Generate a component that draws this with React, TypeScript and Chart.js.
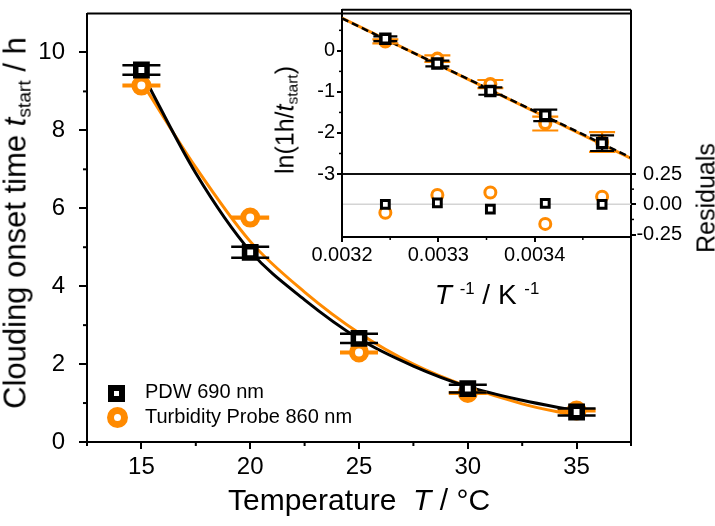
import React, { useEffect, useRef } from 'react';
import { Chart, registerables } from 'chart.js';

Chart.register(...registerables);

const FONT = '"Liberation Sans", Arial, Helvetica, sans-serif';
const BLACK = '#000000';
const ORANGE = '#FF8A00';

// ---------- main chart data ----------
const TEMPS = [15, 20, 25, 30, 35];
const PDW_T = [9.55, 4.87, 2.66, 1.37, 0.77];
const PDW_ERR = [0.12, 0.14, 0.12, 0.1, 0.09];
const TURB_T = [9.15, 5.76, 2.3, 1.26, 0.81];
const TURB_ERR = [0.02, 0.02, 0.02, 0.02, 0.02];
const FIT_T = [15, 17.5, 20, 22.5, 25, 27.5, 30, 32.5, 35];
const PDW_FIT = [9.5, 6.9, 4.9, 3.65, 2.65, 1.95, 1.42, 1.07, 0.8];
const TURB_FIT = [9.25, 7.05, 5.15, 3.85, 2.8, 2.0, 1.42, 0.98, 0.67];
const MAIN_X_TICKS = [15, 20, 25, 30, 35];
const MAIN_X_MINOR = [12.5, 17.5, 22.5, 27.5, 32.5, 37.5];
const MAIN_Y_TICKS = [0, 2, 4, 6, 8, 10];
const MAIN_Y_MINOR = [1, 3, 5, 7, 9];

// ---------- inset data ----------
const INV_T = [0.003245, 0.003299, 0.003354, 0.003411, 0.00347];
const PDW_LN = [0.295, -0.31, -0.98, -1.57, -2.25];
const PDW_LN_ERR = [0.06, 0.07, 0.09, 0.14, 0.19];
const TURB_LN = [0.23, -0.19, -0.81, -1.77, -2.22];
const TURB_LN_ERR = [0.05, 0.08, 0.1, 0.17, 0.24];
const FIT_X = [0.0032, 0.0035];
const PDW_LN_FIT = [0.79, -2.6];
const TURB_LN_FIT = [0.8, -2.62];
const ZERO_LINE = [0, 0];
const PDW_RES = [0.0, 0.012, -0.04, 0.008, 0.0];
const TURB_RES = [-0.07, 0.077, 0.097, -0.162, 0.063];
const INSET_X_TICKS = [0.0032, 0.0033, 0.0034];
const INSET_X_MINOR = [0.00325, 0.00335, 0.00345];
const INSET_Y_TICKS = [0, -1, -2, -3];
const INSET_Y_MINOR = [0.5, -0.5, -1.5, -2.5];
const RES_TICKS = [-0.25, 0, 0.25];
const RES_MINOR = [-0.125, 0.125];

function xy(xs: number[], ys: number[]) {
  return xs.map((x, i) => ({ x, y: ys[i] }));
}

type MinorItem = { scale: string; values: number[]; length: number; width: number };
function minorTicksPlugin(items: MinorItem[]) {
  return {
    id: 'minorTicks',
    afterDraw(chart: any) {
      const ctx = chart.ctx;
      items.forEach((item) => {
        const scale = chart.scales[item.scale];
        ctx.save();
        ctx.strokeStyle = BLACK;
        ctx.lineWidth = item.width;
        item.values.forEach((v) => {
          const p = scale.getPixelForValue(v);
          ctx.beginPath();
          if (scale.isHorizontal()) {
            ctx.moveTo(p, scale.top);
            ctx.lineTo(p, scale.top + item.length);
          } else if (scale.position === 'left') {
            ctx.moveTo(scale.right, p);
            ctx.lineTo(scale.right - item.length, p);
          } else {
            ctx.moveTo(scale.left, p);
            ctx.lineTo(scale.left + item.length, p);
          }
          ctx.stroke();
        });
        ctx.restore();
      });
    },
  };
}

type ErrCfg = { errors: number[]; color: string; cap: number; width: number };
function errorBarsPlugin(cfgs: Record<number, ErrCfg>) {
  return {
    id: 'errorBars',
    beforeDatasetDraw(chart: any, args: any) {
      const cfg = cfgs[args.index];
      if (!cfg) return;
      const meta = args.meta;
      const yScale = chart.scales[meta.yAxisID];
      const ds = chart.data.datasets[args.index];
      const ctx = chart.ctx;
      ctx.save();
      ctx.strokeStyle = cfg.color;
      ctx.lineWidth = cfg.width;
      meta.data.forEach((pt: any, i: number) => {
        const v = ds.data[i].y;
        const e = cfg.errors[i];
        const x = pt.x;
        const y1 = yScale.getPixelForValue(v + e);
        const y2 = yScale.getPixelForValue(v - e);
        const h = cfg.cap / 2;
        ctx.beginPath();
        ctx.moveTo(x, y1);
        ctx.lineTo(x, y2);
        ctx.moveTo(x - h, y1);
        ctx.lineTo(x + h, y1);
        ctx.moveTo(x - h, y2);
        ctx.lineTo(x + h, y2);
        ctx.stroke();
      });
      ctx.restore();
    },
  };
}

type Side = { side: 'top' | 'right' | 'bottom' | 'left'; width: number };
function framePlugin(sides: Side[]) {
  return {
    id: 'frame',
    afterDraw(chart: any) {
      const { left, right, top, bottom } = chart.chartArea;
      const ctx = chart.ctx;
      ctx.save();
      ctx.strokeStyle = BLACK;
      sides.forEach((s) => {
        ctx.lineWidth = s.width;
        ctx.beginPath();
        if (s.side === 'top') { ctx.moveTo(left, top); ctx.lineTo(right, top); }
        if (s.side === 'bottom') { ctx.moveTo(left, bottom); ctx.lineTo(right, bottom); }
        if (s.side === 'left') { ctx.moveTo(left, top); ctx.lineTo(left, bottom); }
        if (s.side === 'right') { ctx.moveTo(right, top); ctx.lineTo(right, bottom); }
        ctx.stroke();
      });
      ctx.restore();
    },
  };
}

function axisCommon(tickLength: number, lw: number) {
  return {
    grid: { drawOnChartArea: false, drawTicks: true, tickLength, color: BLACK, tickColor: BLACK, tickWidth: lw, lineWidth: lw },
    border: { display: true, color: BLACK, width: lw },
  };
}

function setTicks(values: number[]) {
  return (s: any) => {
    s.ticks = values.map((v) => ({ value: v }));
  };
}

function fixSize(dim: 'width' | 'height', v: number) {
  return (s: any) => {
    s[dim] = v;
    s.paddingTop = 0;
    s.paddingBottom = 0;
    s.paddingLeft = 0;
    s.paddingRight = 0;
  };
}

function mainConfig(): any {
  return {
    type: 'line',
    data: {
      datasets: [
        { label: 'PDW 690 nm', data: xy(TEMPS, PDW_T), showLine: false, pointStyle: 'rect', pointRadius: 8, pointBorderWidth: 5.5, borderColor: BLACK, pointBorderColor: BLACK, backgroundColor: '#fff', pointBackgroundColor: '#fff' },
        { label: 'Turbidity Probe 860 nm', data: xy(TEMPS, TURB_T), showLine: false, pointStyle: 'circle', pointRadius: 7, pointBorderWidth: 6, borderColor: ORANGE, pointBorderColor: ORANGE, backgroundColor: '#fff', pointBackgroundColor: '#fff' },
        { label: 'PDW fit', data: xy(FIT_T, PDW_FIT), pointRadius: 0, borderColor: BLACK, borderWidth: 3, cubicInterpolationMode: 'monotone', fill: false },
        { label: 'Turbidity fit', data: xy(FIT_T, TURB_FIT), pointRadius: 0, borderColor: ORANGE, borderWidth: 3, cubicInterpolationMode: 'monotone', fill: false },
      ],
    },
    options: {
      animation: false,
      responsive: false,
      events: [],
      layout: { padding: { left: 0, top: 2, right: 84, bottom: 0 } },
      plugins: { legend: { display: false }, tooltip: { enabled: false } },
      scales: {
        x: {
          type: 'linear', min: 12.5, max: 37.5,
          afterBuildTicks: setTicks(MAIN_X_TICKS),
          afterFit: fixSize('height', 84),
          ...axisCommon(7, 2),
          ticks: { font: { family: FONT, size: 24 }, color: BLACK, padding: 4, maxRotation: 0, autoSkip: false },
        },
        y: {
          type: 'linear', min: 0, max: 11,
          afterBuildTicks: setTicks(MAIN_Y_TICKS),
          afterFit: fixSize('width', 87),
          ...axisCommon(8, 2),
          ticks: { font: { family: FONT, size: 24 }, color: BLACK, padding: 14, autoSkip: false },
        },
      },
    },
    plugins: [
      errorBarsPlugin({
        0: { errors: PDW_ERR, color: BLACK, cap: 38, width: 2.5 },
        1: { errors: TURB_ERR, color: ORANGE, cap: 38, width: 2.5 },
      }),
      minorTicksPlugin([
        { scale: 'x', values: MAIN_X_MINOR, length: 4, width: 2 },
        { scale: 'y', values: MAIN_Y_MINOR, length: 4, width: 2 },
      ]),
      framePlugin([{ side: 'top', width: 2 }, { side: 'right', width: 2 }]),
    ],
  };
}

function insetConfig(): any {
  return {
    type: 'line',
    data: {
      datasets: [
        { label: 'PDW', data: xy(INV_T, PDW_LN), showLine: false, pointStyle: 'rect', pointRadius: 6.3, pointBorderWidth: 3.5, pointBorderColor: BLACK, borderColor: BLACK, pointBackgroundColor: '#fff', backgroundColor: '#fff' },
        { label: 'Turbidity', data: xy(INV_T, TURB_LN), showLine: false, pointStyle: 'circle', pointRadius: 5.3, pointBorderWidth: 3.5, pointBorderColor: ORANGE, borderColor: ORANGE, pointBackgroundColor: '#fff', backgroundColor: '#fff' },
        { label: 'PDW fit', data: xy(FIT_X, PDW_LN_FIT), pointRadius: 0, borderColor: BLACK, borderWidth: 2.5, borderDash: [7, 4], fill: false },
        { label: 'Turbidity fit', data: xy(FIT_X, TURB_LN_FIT), pointRadius: 0, borderColor: ORANGE, borderWidth: 3, fill: false },
      ],
    },
    options: {
      animation: false,
      responsive: false,
      events: [],
      layout: { padding: { left: 0, top: 2, right: 84, bottom: 352 } },
      plugins: { legend: { display: false }, tooltip: { enabled: false } },
      scales: {
        x: { type: 'linear', min: 0.0032, max: 0.0035, display: false },
        y: {
          type: 'linear', min: -3, max: 1,
          afterBuildTicks: setTicks(INSET_Y_TICKS),
          afterFit: fixSize('width', 342),
          ...axisCommon(5, 2),
          ticks: { font: { family: FONT, size: 20 }, color: BLACK, padding: 2, autoSkip: false, callback: (v: number) => String(v) },
        },
      },
    },
    plugins: [
      errorBarsPlugin({
        0: { errors: PDW_LN_ERR, color: BLACK, cap: 24, width: 2.2 },
        1: { errors: TURB_LN_ERR, color: ORANGE, cap: 26, width: 2.2 },
      }),
      minorTicksPlugin([{ scale: 'y', values: INSET_Y_MINOR, length: 3, width: 1.5 }]),
      framePlugin([{ side: 'right', width: 2 }, { side: 'top', width: 2 }, { side: 'bottom', width: 1.5 }]),
    ],
  };
}

function residualConfig(): any {
  return {
    type: 'line',
    data: {
      datasets: [
        { label: 'PDW res', data: xy(INV_T, PDW_RES), showLine: false, pointStyle: 'rect', pointRadius: 5.5, pointBorderWidth: 3, pointBorderColor: BLACK, borderColor: BLACK, pointBackgroundColor: '#fff', backgroundColor: '#fff' },
        { label: 'Turbidity res', data: xy(INV_T, TURB_RES), showLine: false, pointStyle: 'circle', pointRadius: 5.5, pointBorderWidth: 3, pointBorderColor: ORANGE, borderColor: ORANGE, pointBackgroundColor: '#fff', backgroundColor: '#fff' },
        { label: 'zero', data: xy(FIT_X, ZERO_LINE), pointRadius: 0, borderColor: '#d4d4d4', borderWidth: 1.5, fill: false },
      ],
    },
    options: {
      animation: false,
      responsive: false,
      events: [],
      layout: { padding: { left: 342, top: 174, right: 33, bottom: 0 } },
      plugins: { legend: { display: false }, tooltip: { enabled: false } },
      scales: {
        x: {
          type: 'linear', min: 0.0032, max: 0.0035,
          afterBuildTicks: setTicks(INSET_X_TICKS),
          afterFit: fixSize('height', 289),
          ...axisCommon(5, 2),
          ticks: { font: { family: FONT, size: 20 }, color: BLACK, padding: 1, maxRotation: 0, autoSkip: false, callback: (v: number) => v.toFixed(4) },
        },
        y: {
          type: 'linear', position: 'right', min: -0.27, max: 0.25,
          afterBuildTicks: setTicks(RES_TICKS),
          afterFit: fixSize('width', 51),
          ...axisCommon(5, 2),
          ticks: { font: { family: FONT, size: 20 }, color: BLACK, padding: 1, crossAlign: 'far', autoSkip: false, callback: (v: number) => v.toFixed(2) },
        },
      },
    },
    plugins: [
      minorTicksPlugin([
        { scale: 'x', values: INSET_X_MINOR, length: 3, width: 1.5 },
        { scale: 'y', values: RES_MINOR, length: 3, width: 1.5 },
      ]),
      framePlugin([{ side: 'left', width: 2 }, { side: 'top', width: 1.5 }]),
    ],
  };
}

const subStyle: React.CSSProperties = { fontSize: '0.62em', verticalAlign: '-0.28em', lineHeight: 0 };
const supStyle: React.CSSProperties = { fontSize: '0.6em', verticalAlign: '0.6em', lineHeight: 0 };
const canvasStyle: React.CSSProperties = { position: 'absolute', left: 0, top: 0 };

export default function App() {
  const mainRef = useRef<HTMLCanvasElement>(null);
  const insetRef = useRef<HTMLCanvasElement>(null);
  const resRef = useRef<HTMLCanvasElement>(null);

  useEffect(() => {
    const charts = [
      new Chart(mainRef.current as HTMLCanvasElement, mainConfig()),
      new Chart(insetRef.current as HTMLCanvasElement, insetConfig()),
      new Chart(resRef.current as HTMLCanvasElement, residualConfig()),
    ];
    return () => charts.forEach((c) => c.destroy());
  }, []);

  const text: React.CSSProperties = { position: 'absolute', fontFamily: FONT, color: BLACK, whiteSpace: 'nowrap' };

  return (
    <div style={{ position: 'absolute', left: 0, top: 0, width: 715, height: 526, background: '#fff', overflow: 'hidden' }}>
      <canvas ref={mainRef} width={715} height={526} style={canvasStyle} />
      <canvas ref={insetRef} width={715} height={526} style={canvasStyle} />
      <canvas ref={resRef} width={715} height={526} style={canvasStyle} />

      <div style={{ ...text, left: 15, top: 223, fontSize: 31, lineHeight: '31px', transform: 'translate(-50%,-50%) rotate(-90deg)' }}>
        Clouding onset time <i>t</i><span style={subStyle}>start</span> / h
      </div>
      <div style={{ ...text, left: 359, top: 485, fontSize: 30, lineHeight: '30px', transform: 'translateX(-50%)' }}>
        Temperature&nbsp; <i>T</i> / °C
      </div>
      <div style={{ ...text, left: 285, top: 120, fontSize: 25, lineHeight: '25px', transform: 'translate(-50%,-50%) rotate(-90deg)' }}>
        ln(1h/<i>t</i><span style={subStyle}>start</span>)
      </div>
      <div style={{ ...text, left: 706, top: 198, fontSize: 25, lineHeight: '25px', transform: 'translate(-50%,-50%) rotate(-90deg)' }}>
        Residuals
      </div>
      <div style={{ ...text, left: 487, top: 281, fontSize: 28, lineHeight: '28px', transform: 'translateX(-50%)' }}>
        <i>T</i> <span style={supStyle}>-1</span> / K <span style={supStyle}>-1</span>
      </div>

      <div style={{ position: 'absolute', left: 108, top: 384.5, width: 17, height: 17, boxSizing: 'border-box', border: '6px solid ' + BLACK, background: '#fff' }} />
      <div style={{ position: 'absolute', left: 106.5, top: 406.5, width: 21, height: 21, boxSizing: 'border-box', border: '7px solid ' + ORANGE, borderRadius: '50%', background: '#fff' }} />
      <div style={{ ...text, left: 145, top: 381, fontSize: 20, lineHeight: '20px' }}>PDW 690 nm</div>
      <div style={{ ...text, left: 145, top: 406, fontSize: 20, lineHeight: '20px' }}>Turbidity Probe 860 nm</div>
    </div>
  );
}
